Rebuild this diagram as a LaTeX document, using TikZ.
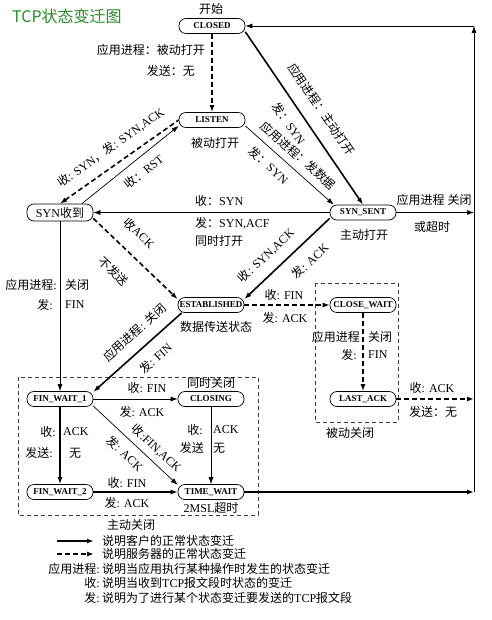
\documentclass[tikz,border=0pt]{standalone}
\usepackage{fontspec}
\setmainfont{Liberation Serif}
\newfontfamily\cjk{Noto Sans CJK SC}
\usetikzlibrary{arrows.meta}
\newXeTeXintercharclass\zhcls
\newcount\zhc
\def\zhrange#1#2{\zhc=#1\relax\loop\XeTeXcharclass\zhc=\zhcls\advance\zhc by 1\relax\ifnum\zhc<#2\repeat}
\zhrange{"4E00}{"A000}
\zhrange{"3000}{"3040}
\zhrange{"FF01}{"FF60}
\zhc="21 \loop\XeTeXcharclass\zhc=0 \advance\zhc by 1 \ifnum\zhc<"7F \repeat
\XeTeXinterchartoks 0 \zhcls={\begingroup\cjk}
\XeTeXinterchartoks 4095 \zhcls={\begingroup\cjk}
\XeTeXinterchartoks \zhcls 0={\endgroup}
\XeTeXinterchartoks \zhcls 4095={\endgroup}
\XeTeXinterchartokenstate=1
\definecolor{titlegreen}{RGB}{40,140,40}
\begin{document}
\begin{tikzpicture}[x=1pt,y=-1pt,
  st/.style={rectangle, rounded corners=7pt, draw, line width=0.7pt, minimum width=66pt, minimum height=15pt, inner sep=1pt, font=\fontsize{9}{10}\selectfont\bfseries},
  lab/.style={inner sep=1pt, font=\fontsize{12}{14}\selectfont},
  thk/.style={line width=1.6pt},
  thn/.style={line width=0.7pt},
  dsh/.style={line width=1.6pt, dash pattern=on 5pt off 3pt},
  >={Latex[length=7pt,width=5pt]},
  box/.style={draw=black!75, line width=0.7pt, dash pattern=on 4pt off 3pt}
]
\useasboundingbox (0,0) rectangle (491,620);
\fill[white] (0,0) rectangle (491,620);

% title
\node[font=\fontsize{16}{17}\selectfont\cjk, text=titlegreen, anchor=west, inner sep=0pt] (title) at (12,16) {TCP状态变迁图};

% boxes
\draw[box] (18,377) rectangle (258,515);
\draw[box] (315,283) rectangle (398,422);

% states
\node[st] (CLOSED) at (212,26) {CLOSED};
\node[st] (LISTEN) at (212,120) {LISTEN};
\node[st, font=\fontsize{12}{13}\selectfont, minimum height=17pt] (SYNR) at (60,212.5) {SYN收到};
\node[st] (SYNS) at (363,212.5) {SYN\_SENT};
\node[st, inner sep=0pt] (EST) at (211,305) {ESTABLISHED};
\node[st] (CW) at (363,305) {CLOSE\_WAIT};
\node[st] (FW1) at (60,399) {FIN\_WAIT\_1};
\node[st] (CLG) at (211,399) {CLOSING};
\node[st] (LA) at (363,399) {LAST\_ACK};
\node[st] (FW2) at (60,492) {FIN\_WAIT\_2};
\node[st] (TW) at (211,492) {TIME\_WAIT};

\coordinate (RTop) at (474,26);
\coordinate (RS) at (474,212.5);
\coordinate (RL) at (474,399);
\coordinate (RT) at (474,492);

% annotations
\node[lab] (a1) at (211,9) {开始};
\node[lab] (a2) at (215,143) {被动打开};
\node[lab] (a3) at (364,235) {主动打开};
\node[lab] (a4) at (216,327) {数据传送状态};
\node[lab] (a5) at (211,383) {同时关闭};
\node[lab] (a6) at (211,508) {2MSL超时};
\node[lab] (a7) at (350,433) {被动关闭};
\node[lab] (a8) at (131,525) {主动关闭};

% CLOSED -> LISTEN
\draw[dsh,->] (CLOSED.south) -- (LISTEN.north);
\node[lab, anchor=east] (l1) at (206,50) {应用进程：被动打开};
\node[lab, anchor=east] (l2) at (196,71) {发送：无};

% CLOSED -> SYN_SENT
\draw[thk,->] (CLOSED.-10) -- node[lab,sloped,above=12pt,pos=0.51] (l3) {应用进程：主动打开} node[lab,sloped,below=8pt,pos=0.48] (l4) {发：SYN} (SYNS.north);

% LISTEN -> SYN_SENT
\draw[thn,->] (LISTEN.-10) -- node[lab,sloped,above=6pt,pos=0.5] (l5) {应用进程：发数据} node[lab,sloped,below=7pt,pos=0.37] (l6) {发：SYN} (SYNS.165);

% LISTEN -> SYN收到
\draw[dsh,<-] (SYNR.north) -- node[lab,sloped,above=9pt,pos=0.51] (l7) {收: SYN，发: SYN,ACK} (LISTEN.west);

% SYN收到 -> LISTEN
\draw[thn,->] (SYNR.22) -- node[lab,sloped,below=7pt,pos=0.55] (l8) {收：RST} (LISTEN.190);

% SYN_SENT -> SYN收到
\draw[thn,->] (SYNS.west) -- (SYNR.east);
\node[lab,anchor=west] (l9) at (194,201) {收：SYN};
\node[lab,anchor=west] (l10) at (194,223) {发：SYN,ACF};
\node[lab,anchor=west] (l11) at (194,241) {同时打开};

% SYN_SENT -> right
\draw[thn,->] (SYNS.east) -- (RS);
\node[lab] (l12) at (434,200) {应用进程 关闭};
\node[lab] (l13) at (432,227) {或超时};

% SYN收到 -> ESTABLISHED
\draw[dsh,->] (SYNR.-10) -- node[lab,sloped,above=14pt,pos=0.37] (l14) {收ACK} node[lab,sloped,below=17pt,pos=0.44] (l15) {不发送} (EST.170);

% SYN_SENT -> ESTABLISHED
\draw[thk,<-] (EST.10) -- node[lab,sloped,above=9pt,pos=0.39] (l16) {收: SYN,ACK} node[lab,sloped,below=10pt,pos=0.63] (l17) {发: ACK} (SYNS.190);

% ESTABLISHED -> CLOSE_WAIT
\draw[dsh,->] (EST.east) -- (CW.west);
\node[lab] (l18) at (284,295) {收: FIN};
\node[lab] (l19) at (285,318) {发: ACK};

% ESTABLISHED -> FIN_WAIT_1
\draw[thk,<-] (FW1.12) -- node[lab,sloped,above=9pt,pos=0.59] (l20) {应用进程: 关闭} node[lab,sloped,below=9pt,pos=0.58] (l21) {发: FIN} (EST.195);

% SYN收到 -> FIN_WAIT_1
\draw[thn,->] (SYNR.south) -- (FW1.north);
\node[lab,anchor=east] (l22) at (58,285) {应用进程:};
\node[lab,anchor=west] (l23) at (64,285) {关闭};
\node[lab,anchor=east] (l24) at (54,305) {发:};
\node[lab,anchor=west] (l25) at (64,305) {FIN};

% CLOSE_WAIT -> LAST_ACK
\draw[dsh,->] (CW.south) -- (LA.north);
\node[lab,anchor=east] (l26) at (361,337) {应用进程};
\node[lab,anchor=west] (l27) at (367,337) {关闭};
\node[lab,anchor=east] (l28) at (358,355) {发:};
\node[lab,anchor=west] (l29) at (367,355) {FIN};

% LAST_ACK -> right
\draw[dsh,->] (LA.east) -- (RL);
\node[lab] (l30) at (432,388) {收: ACK};
\node[lab] (l31) at (433,412) {发送：无};

% FIN_WAIT_1 -> CLOSING
\draw[thn,->] (FW1.east) -- (CLG.west);
\node[lab] (l32) at (147,388) {收: FIN};
\node[lab] (l33) at (142,412) {发: ACK};

% FIN_WAIT_1 -> FIN_WAIT_2
\draw[thk,->] (FW1.south) -- (FW2.north);
\node[lab,anchor=east] (l34) at (57,432) {收:};
\node[lab,anchor=west] (l35) at (62,432) {ACK};
\node[lab,anchor=east] (l36) at (54,453) {发送:};
\node[lab,anchor=west] (l37) at (68,453) {无};

% FIN_WAIT_1 -> TIME_WAIT
\draw[thn,->] (FW1.-12) -- node[lab,sloped,above=5pt,pos=0.65] (l38) {收:FIN,ACK} node[lab,sloped,below=6pt,pos=0.48] (l39) {发: ACK} (TW.168);

% CLOSING -> TIME_WAIT
\draw[thn,->] (CLG.south) -- (TW.north);
\node[lab,anchor=east] (l40) at (204,430) {收:};
\node[lab,anchor=west] (l41) at (212,430) {ACK};
\node[lab,anchor=east] (l42) at (205,448) {发送};
\node[lab,anchor=west] (l43) at (212,448) {无};

% FIN_WAIT_2 -> TIME_WAIT
\draw[thk,->] (FW2.east) -- (TW.west);
\node[lab] (l44) at (127,483) {收: FIN};
\node[lab] (l45) at (127,503) {发: ACK};

% TIME_WAIT -> right -> CLOSED
\draw[thk,->] (TW.east) -- (RT);
\draw[thn,->] (RT) -- (RTop);
\draw[thn,->] (RTop) -- (CLOSED.east);

% legend
\node[lab,anchor=west] (g1) at (101,541) {说明客户的正常状态变迁};
\node[lab,anchor=west] (g2) at (101,554) {说明服务器的正常状态变迁};
\node[lab,anchor=west] (g3) at (101,569) {说明当应用执行某种操作时发生的状态变迁};
\node[lab,anchor=west] (g4) at (101,583) {说明当收到TCP报文段时状态的变迁};
\node[lab,anchor=west] (g5) at (101,598) {说明为了进行某个状态变迁要发送的TCP报文段};
\node[lab,anchor=east] (h3) at (101,569) {应用进程:};
\node[lab,anchor=east] (h4) at (101,583) {收:};
\node[lab,anchor=east] (h5) at (101,598) {发:};
\draw[thk,->] ([xshift=-44pt]g1.west) -- ([xshift=-7pt]g1.west);
\draw[dsh,->] ([xshift=-44pt]g2.west) -- ([xshift=-7pt]g2.west);
\end{tikzpicture}
\end{document}
